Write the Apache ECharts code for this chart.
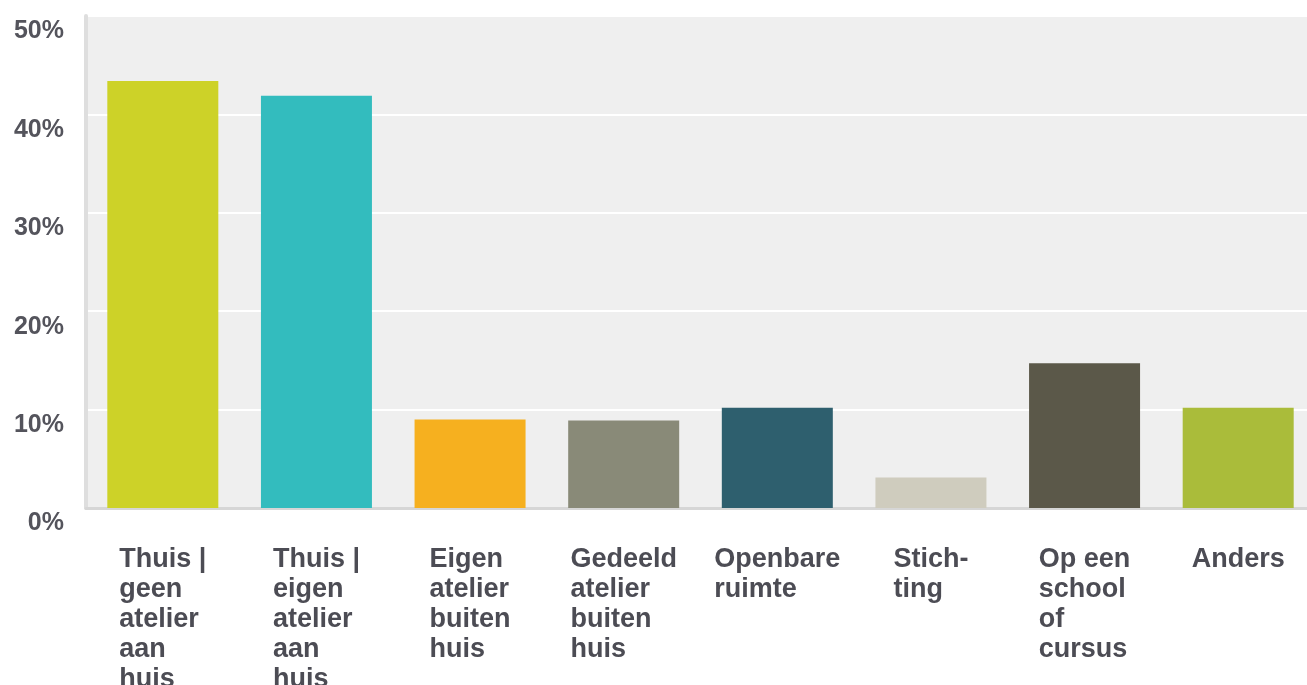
<!DOCTYPE html>
<html>
<head>
<meta charset="utf-8">
<script src="https://cdn.jsdelivr.net/npm/echarts@6/dist/echarts.min.js"></script>
<style>
  html, body { margin: 0; padding: 0; background: #ffffff; overflow: hidden; }
  #chart { width: 1320px; height: 685px; }
</style>
</head>
<body>
<div id="chart"></div>
<script>
// Werkplek: categories, percentages and bar colours
const categories = [
  'Thuis |\ngeen\natelier\naan\nhuis',
  'Thuis |\neigen\natelier\naan\nhuis',
  'Eigen\natelier\nbuiten\nhuis',
  'Gedeeld\natelier\nbuiten\nhuis',
  'Openbare\nruimte',
  'Stich-\nting',
  'Op een\nschool\nof\ncursus',
  'Anders'
];
const values = [43.4, 41.9, 9.0, 8.9, 10.2, 3.1, 14.7, 10.2];
const barColors = ['#cdd228', '#33bcbe', '#f6b01f', '#898a78', '#2e5f6e', '#cfccbe', '#5b5849', '#aabc3a'];
const yTicks = [0, 10, 20, 30, 40, 50];

const chart = echarts.init(document.getElementById('chart'));

// Each label line is left aligned inside a block that is centred under its bar
function richLabel(text) {
  return text.split('\n').map(l => '{l|' + l + '}').join('\n');
}

chart.setOption({
  animation: false,
  grid: {
    left: 86, top: 16, width: 1229, height: 492,
    outerBoundsMode: 'none',
    containLabel: false,
    show: true, backgroundColor: '#efefef', borderWidth: 0
  },
  xAxis: {
    type: 'category',
    data: categories,
    axisLine: { show: true, lineStyle: { color: '#d6d6d6', width: 3 } },
    axisTick: { show: false },
    axisLabel: {
      interval: 0,
      margin: 37,
      align: 'center',
      verticalAlign: 'top',
      formatter: richLabel,
      rich: {
        l: {
          align: 'left',
          fontFamily: 'Liberation Sans, Arial, sans-serif',
          fontSize: 27,
          fontWeight: 'bold',
          lineHeight: 30,
          color: '#4c4c54'
        }
      }
    }
  },
  yAxis: {
    type: 'value',
    min: yTicks[0],
    max: yTicks[yTicks.length - 1],
    interval: 10,
    axisLine: { show: true, lineStyle: { color: '#dedede', width: 4 } },
    axisTick: { show: false },
    splitLine: { lineStyle: { color: '#ffffff', width: 2 } },
    axisLabel: {
      formatter: '{value}%',
      margin: 22,
      verticalAlign: 'top',
      padding: [3, 0, 0, 0],
      fontFamily: 'Liberation Sans, Arial, sans-serif',
      fontSize: 25,
      fontWeight: 'bold',
      color: '#54545c'
    }
  },
  series: [{
    type: 'bar',
    barWidth: 111,
    data: values.map((v, i) => ({ value: v, itemStyle: { color: barColors[i] } }))
  }]
});
</script>
</body>
</html>
